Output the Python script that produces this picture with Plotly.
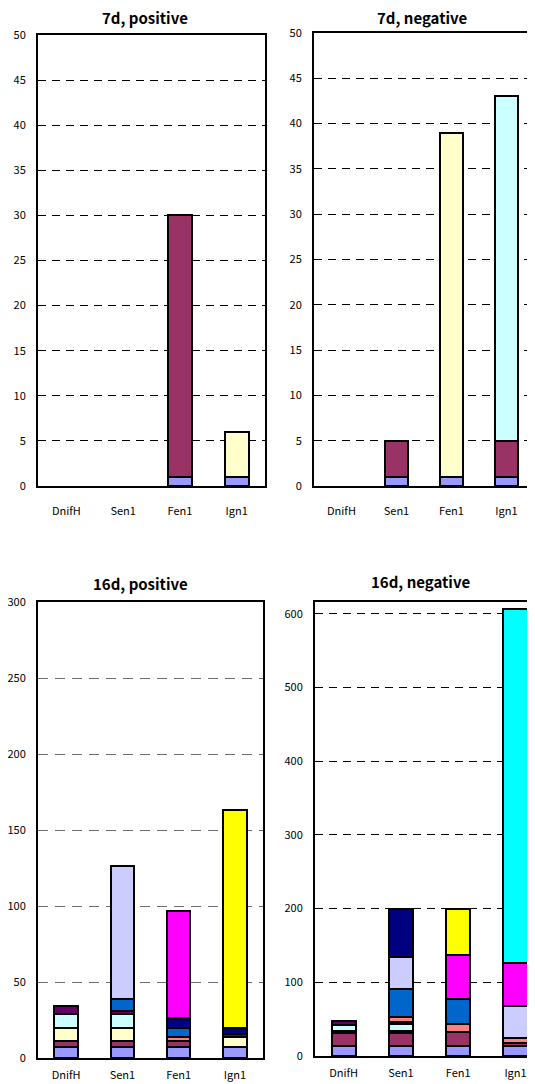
import plotly.graph_objects as go

categories = ["DnifH", "Sen1", "Fen1", "Ign1"]
series_colors = ["#9999FF", "#993366", "#FFFFCC", "#CCFFFF", "#660066", "#FF8080",
                 "#0066CC", "#CCCCFF", "#000080", "#FF00FF", "#FFFF00", "#00FFFF"]
panel_titles = ["7d, positive", "7d, negative", "16d, positive", "16d, negative"]

# rows = series 1..12, columns = categories
d7_positive = [
    [0, 0, 1, 1],
    [0, 0, 29, 0],
    [0, 0, 0, 5],
    [0, 0, 0, 0],
    [0, 0, 0, 0],
    [0, 0, 0, 0],
    [0, 0, 0, 0],
    [0, 0, 0, 0],
    [0, 0, 0, 0],
    [0, 0, 0, 0],
    [0, 0, 0, 0],
    [0, 0, 0, 0],
]
d7_negative = [
    [0, 1, 1, 1],
    [0, 4, 0, 4],
    [0, 0, 38, 0],
    [0, 0, 0, 38],
    [0, 0, 0, 0],
    [0, 0, 0, 0],
    [0, 0, 0, 0],
    [0, 0, 0, 0],
    [0, 0, 0, 0],
    [0, 0, 0, 0],
    [0, 0, 0, 0],
    [0, 0, 0, 0],
]
d16_positive = [
    [7, 7, 7, 7],
    [4, 4, 4, 0],
    [9, 9, 0, 7],
    [9, 9, 0, 0],
    [5, 2, 0, 2],
    [0, 0, 3, 0],
    [0, 8, 6, 0],
    [0, 87, 0, 0],
    [0, 0, 6, 4],
    [0, 0, 71, 0],
    [0, 0, 0, 143],
    [0, 0, 0, 0],
]
d16_negative = [
    [14, 14, 14, 14],
    [17, 17, 18, 4],
    [3, 3, 0, 0],
    [8, 9, 0, 0],
    [6, 3, 0, 0],
    [0, 7, 11, 7],
    [0, 38, 35, 0],
    [0, 44, 0, 43],
    [0, 65, 0, 0],
    [0, 0, 59, 58],
    [0, 0, 63, 0],
    [0, 0, 0, 480],
]

y_ranges = [[0, 50], [0, 50], [0, 300], [0, 616]]
y_dticks = [5, 5, 50, 100]
grid_colors = ["#000000", "#000000", "#6e6e6e", "#000000"]
grid_dash = ["8px,6px", "8px,6px", "10px,7px", "8px,6px"]
x_ranges = [[-0.5, 3.5], [-0.5, 3.52], [-0.5, 3.5], [-0.5, 3.34]]
x_standoff = [14, 14, 6, 6]

OFF = 8  # page body margin
W, H = 535 - OFF, 1084 - OFF
# pixel boxes in the window (left, right, top, bottom)
boxes = [(38, 265, 35, 486), (314, 535, 33, 486), (38, 263, 602, 1058), (315, 535, 602, 1056)]
title_pos = [(145, 18), (422, 17), (140, 583), (420, 581)]
mirror_y = [True, False, True, False]

panels = [d7_positive, d7_negative, d16_positive, d16_negative]

fig = go.Figure()
font_family = "Noto Sans CJK JP, Liberation Sans, sans-serif"

for p, data in enumerate(panels):
    xa = "x" if p == 0 else f"x{p+1}"
    ya = "y" if p == 0 else f"y{p+1}"
    for s, vals in enumerate(data):
        yv = [v if v else None for v in vals]
        if all(v is None for v in yv):
            continue
        fig.add_trace(go.Bar(
            x=categories, y=yv, xaxis=xa, yaxis=ya,
            marker=dict(color=series_colors[s], line=dict(color="#000000", width=2)),
            showlegend=False, hoverinfo="skip",
        ))
    l, r, t, b = [v - OFF for v in boxes[p]]
    xdom = [l / W, min(r / W, 1.0)]
    ydom = [1 - b / H, 1 - t / H]
    suffix = "" if p == 0 else str(p + 1)
    fig.update_layout(**{
        f"xaxis{suffix}": dict(
            domain=xdom, anchor=ya, type="category", range=x_ranges[p],
            showline=True, linecolor="#000000", linewidth=2,
            mirror=True, showgrid=False, ticks="", zeroline=False,
            tickfont=dict(family=font_family, size=11, color="#000000"),
            ticklabelstandoff=x_standoff[p], fixedrange=True,
        ),
        f"yaxis{suffix}": dict(
            domain=ydom, anchor=xa, range=y_ranges[p], dtick=y_dticks[p], tick0=0,
            showline=True, linecolor="#000000", linewidth=2,
            mirror=mirror_y[p], showgrid=True, gridcolor=grid_colors[p], gridwidth=1,
            griddash=grid_dash[p], zeroline=False, ticks="",
            tickfont=dict(family=font_family, size=11, color="#000000"),
            ticklabelstandoff=8, fixedrange=True,
        ),
    })
    tx, ty = title_pos[p]
    fig.add_annotation(
        text=f"<b>{panel_titles[p]}</b>", xref="paper", yref="paper",
        x=(tx - OFF) / W, y=1 - (ty - OFF) / H, xanchor="center", yanchor="middle",
        showarrow=False, font=dict(family=font_family, size=15, color="#000000"),
    )

fig.update_layout(
    width=W, height=H, barmode="stack", bargap=0.58,
    margin=dict(l=0, r=0, t=0, b=0, autoexpand=False),
    paper_bgcolor="#ffffff", plot_bgcolor="#ffffff",
)

fig.write_html("out.html")
